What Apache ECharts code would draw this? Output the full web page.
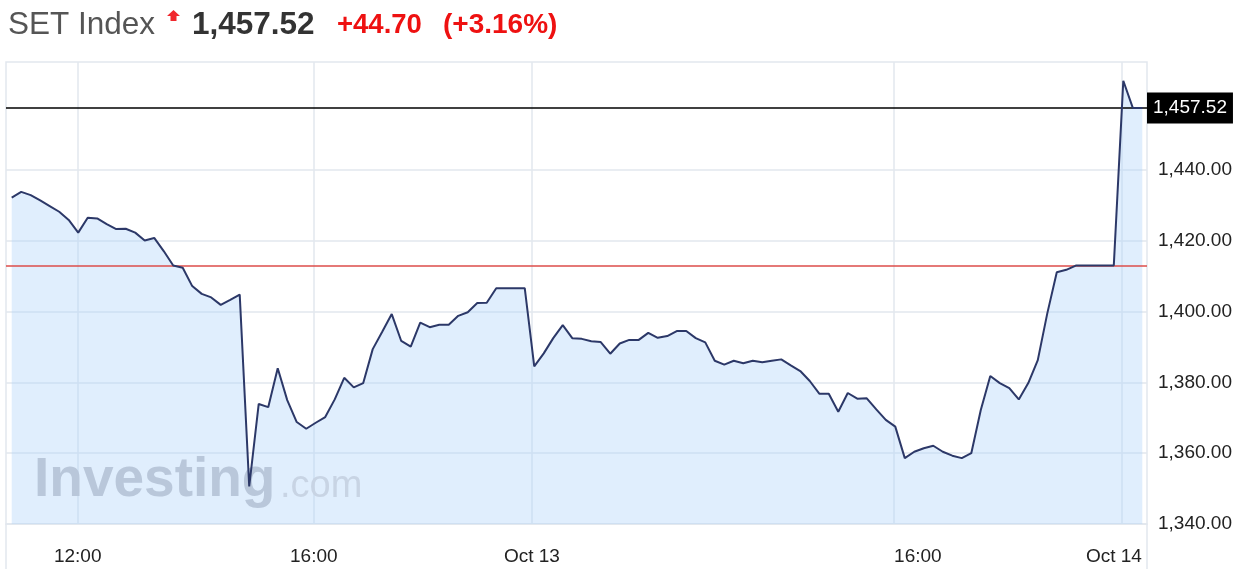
<!DOCTYPE html>
<html><head><meta charset="utf-8">
<script src="https://cdn.jsdelivr.net/npm/echarts@6/dist/echarts.min.js"></script>
<style>html,body{margin:0;padding:0;background:#fff}#c{width:1243px;height:569px}</style>
</head><body><div id="c"></div>
<script>
// Index values, one per intraday sample (equal spacing along the axis)
const values = [
1432.2,1433.8,1432.9,1431.4,1429.8,1428.2,1425.9,1422.3,1426.5,1426.3,
1424.7,1423.3,1423.4,1422.3,1420.1,1420.8,1417.1,1413.0,1412.4,1407.2,
1405.0,1404.0,1401.9,1403.3,1404.8,1350.6,1373.9,1373.0,1384.0,1375.0,
1368.8,1366.9,1368.6,1370.2,1375.2,1381.3,1378.6,1379.8,1389.4,1394.3,
1399.3,1391.7,1390.1,1396.9,1395.6,1396.3,1396.3,1398.8,1399.8,1402.4,
1402.5,1406.6,1406.6,1406.6,1406.6,1384.5,1388.2,1392.5,1396.2,1392.5,
1392.3,1391.6,1391.4,1388.1,1391.0,1392.0,1392.0,1394.0,1392.6,1393.1,
1394.5,1394.5,1392.5,1391.3,1386.1,1385.0,1386.1,1385.4,1386.1,1385.7,
1386.1,1386.5,1384.8,1383.2,1380.4,1376.8,1376.8,1371.7,1377.0,1375.4,
1375.5,1372.4,1369.4,1367.5,1358.6,1360.4,1361.4,1362.1,1360.4,1359.3,
1358.6,1360.0,1372.2,1381.8,1379.8,1378.4,1375.2,1379.8,1386.3,1399.5,
1411.1,1411.8,1413.0,1413.0,1413.0,1413.0,1413.0,1465.2,1457.52,1457.52
];
const prevClose = 1412.82;
const lastPrice = 1457.52;
// x tick positions, in sample-index units, and their labels
const xTickPos = [6.95, 31.8, 54.75, 92.85, 116.85];
const xTickLabels = ['12:00', '16:00', 'Oct 13', '16:00', 'Oct 14'];
const yTicks = [1340, 1360, 1380, 1400, 1420, 1440];
const headerName = 'SET Index';
const headerPrice = '1,457.52';
const headerChange = '+44.70';
const headerPct = '(+3.16%)';

const FONT = '"Liberation Sans", Arial, Helvetica, sans-serif';
const GRID = '#e2e7ee';
const fmt = v => v.toLocaleString('en-US', {minimumFractionDigits: 2, maximumFractionDigits: 2});
const seriesData = values.map((v, i) => [i, v]);

const chart = echarts.init(document.getElementById('c'), null, {renderer: 'canvas'});
chart.setOption({
  animation: false,
  backgroundColor: '#fff',
  grid: {left: 6, right: 96, top: 62, bottom: 45, show: true, borderColor: GRID, borderWidth: 1.5},
  xAxis: {
    type: 'value', min: -0.6, max: 119.495,
    axisLine: {show: true, lineStyle: {color: GRID, width: 1.5}},
    axisTick: {show: false, customValues: xTickPos},
    axisLabel: {
      customValues: xTickPos, margin: 23, fontSize: 19, color: '#222', fontFamily: FONT,
      formatter: v => {
        let best = 0;
        xTickPos.forEach((p, i) => { if (Math.abs(p - v) < Math.abs(xTickPos[best] - v)) best = i; });
        if (best === xTickPos.length - 1) return '{e|' + xTickLabels[best] + '}';
        if (best === 3) return '{r|' + xTickLabels[best] + '}';
        return xTickLabels[best];
      },
      rich: {
        e: {fontSize: 19, color: '#222', fontFamily: FONT, padding: [0, 16, 0, 0]},
        r: {fontSize: 19, color: '#222', fontFamily: FONT, padding: [0, 0, 0, 48]}
      }
    },
    splitLine: {show: true, lineStyle: {color: GRID, width: 1.5}}
  },
  yAxis: {
    type: 'value', position: 'right', min: 1340, max: 1470.5,
    axisLine: {show: false},
    axisTick: {show: false, customValues: yTicks},
    axisLabel: {customValues: yTicks, margin: 11, fontSize: 19, color: '#222', fontFamily: FONT, formatter: v => fmt(v)},
    splitLine: {show: true, lineStyle: {color: GRID, width: 1.5}}
  },
  series: [
    {
      type: 'line', data: seriesData, z: 1, showSymbol: false, silent: true,
      lineStyle: {width: 0}, areaStyle: {color: 'rgba(175,210,250,0.55)', origin: 'start'}
    },
    {
      type: 'line', data: seriesData, z: 5, showSymbol: false, silent: true,
      lineStyle: {color: '#2c3868', width: 2},
      markLine: {
        silent: true, symbol: ['none', 'none'], animation: false,
        data: [
          {yAxis: prevClose, lineStyle: {color: '#dc4c4a', width: 1.5, type: 'solid'}, label: {show: false}},
          {yAxis: lastPrice, lineStyle: {color: '#000', width: 1.5, type: 'solid'},
           label: {show: true, position: 'end', distance: 0, formatter: () => fmt(lastPrice),
                   backgroundColor: '#000', color: '#fff', fontSize: 19, fontFamily: FONT,
                   padding: [6, 6, 6, 6]}}
        ]
      }
    }
  ],
  graphic: [
    {type: 'text', z: 10, style: {text: headerName, x: 8, y: 25, verticalAlign: 'middle', fill: '#555', font: '31.5px ' + FONT}},
    {type: 'polygon', z: 10, shape: {points: [[173.5, 10], [180, 16], [176.5, 16], [176.5, 21], [170.5, 21], [170.5, 16], [167, 16]]}, style: {fill: '#f0282d'}},
    {type: 'text', z: 10, style: {text: headerPrice, x: 192, y: 25, verticalAlign: 'middle', fill: '#333', font: 'bold 31.5px ' + FONT}},
    {type: 'text', z: 10, style: {text: headerChange, x: 337, y: 25, verticalAlign: 'middle', fill: '#ee1111', font: 'bold 27.5px ' + FONT}},
    {type: 'text', z: 10, style: {text: headerPct, x: 443, y: 25, verticalAlign: 'middle', fill: '#ee1111', font: 'bold 28px ' + FONT}},
    {type: 'text', z: 2, style: {text: 'Investing', x: 34, y: 453, verticalAlign: 'top', fill: '#b9c7da', font: 'bold 55px ' + FONT}},
    {type: 'text', z: 2, style: {text: '.com', x: 280, y: 468, verticalAlign: 'top', fill: '#c8d4e4', font: '38px ' + FONT}},
    {type: 'line', z: 3, shape: {x1: 6, y1: 524, x2: 6, y2: 569}, style: {stroke: GRID, lineWidth: 1.5}},
    {type: 'line', z: 3, shape: {x1: 1147, y1: 524, x2: 1147, y2: 569}, style: {stroke: GRID, lineWidth: 1.5}}
  ]
});
</script></body></html>
